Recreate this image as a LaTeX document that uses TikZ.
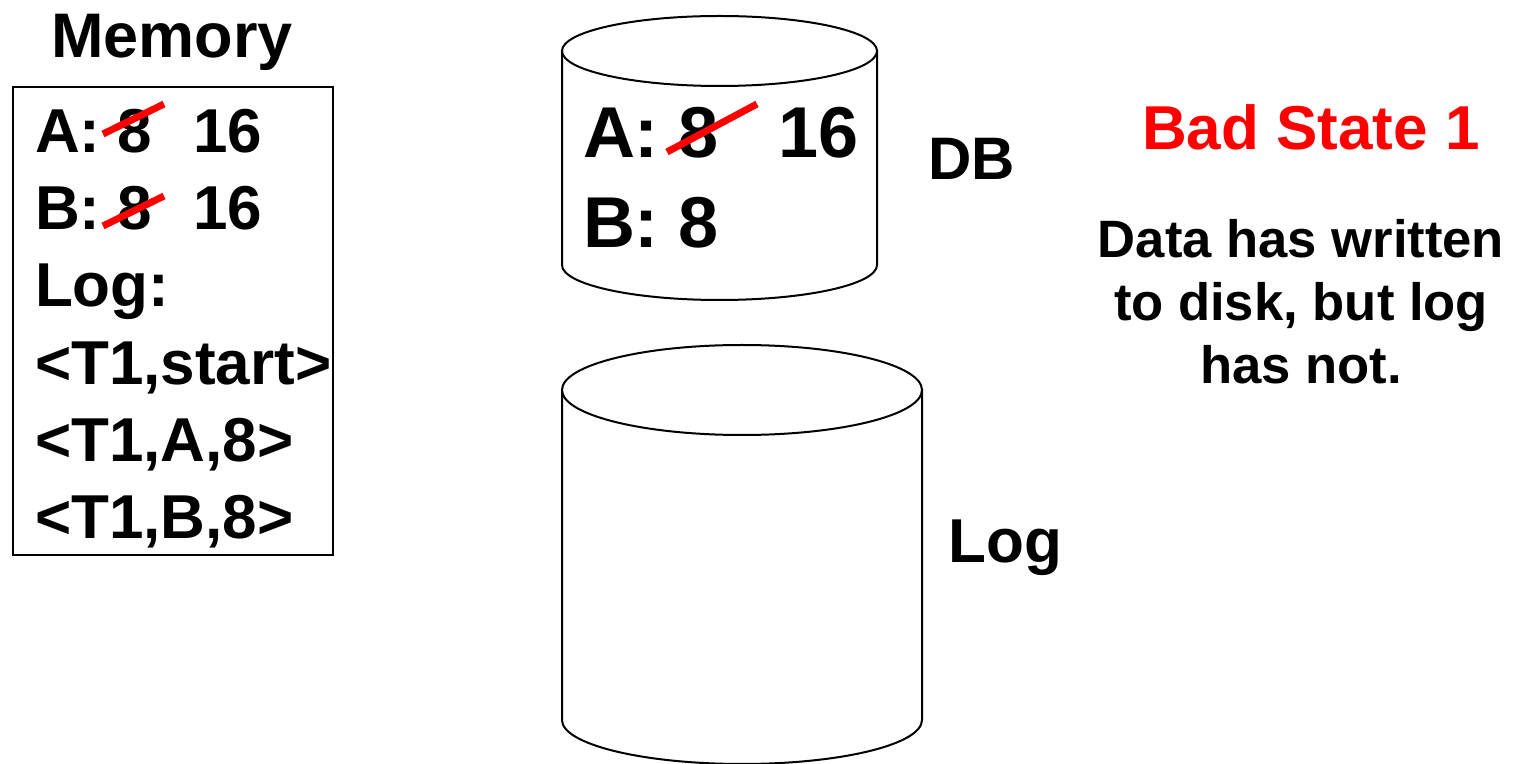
\documentclass[tikz,border=0pt]{standalone}
\usepackage{fontspec}
\setmainfont{Liberation Sans}
\begin{document}
\begin{tikzpicture}[x=0.5pt,y=-0.5pt,
  txt/.style={inner sep=0pt,outer sep=0pt,anchor=base west,font=\bfseries\fontsize{31}{31}\selectfont},
  dbtxt/.style={inner sep=0pt,outer sep=0pt,anchor=base west,font=\bfseries\fontsize{36}{36}\selectfont},
  strike/.style={red,line width=3.5pt},
  cyl/.style={draw=black,line width=1pt,fill=white}]
\useasboundingbox (0,0) rectangle (1523,764);
% Memory
\node[inner sep=0pt,anchor=base,font=\bfseries\fontsize{31.5}{31.5}\selectfont] (memt) at (172,58) {Memory};
\draw[line width=1pt] (13,87) rectangle (333,555);
\node[txt] (ma) at (35,153) {A: 8};
\node[txt] (ma2) at (193,153) {16};
\node[txt] (mb) at (35,230) {B: 8};
\node[txt] (mb2) at (193,230) {16};
\node[txt] (ml) at (35,307) {Log:};
\node[txt] (ml1) at (35,385) {<T1,start>};
\node[txt] (ml2) at (35,462) {<T1,A,8>};
\node[txt] (ml3) at (35,539) {<T1,B,8>};
\draw[strike] (103,134) -- (164,104);
\draw[strike] (103,226) -- (164,196);
% DB cylinder
\path[cyl] (562,51) -- (562,265) arc[start angle=180,end angle=0,x radius=157.5,y radius=35] -- (877,51) -- cycle;
\draw[cyl] (719.5,51) ellipse[x radius=157.5,y radius=35];
\node[dbtxt] (da) at (583,158) {A: 8};
\node[dbtxt] (da2) at (778,158) {16};
\node[dbtxt] (db) at (583,248) {B: 8};
\draw[strike] (667,152) -- (757,104);
\node[inner sep=0pt,anchor=base west,font=\bfseries\fontsize{30}{30}\selectfont] (dbl) at (928,180) {DB};
% Log cylinder
\path[cyl] (562,390) -- (562,720) arc[start angle=180,end angle=0,x radius=180,y radius=44] -- (922,390) -- cycle;
\draw[cyl] (742,390) ellipse[x radius=180,y radius=45];
\node[inner sep=0pt,anchor=base west,font=\bfseries\fontsize{31}{31}\selectfont] (logl) at (948,563) {Log};
% Right text
\node[inner sep=0pt,anchor=base,text=red,font=\bfseries\fontsize{31}{31}\selectfont] (bad) at (1311,150) {Bad State 1};
\node[inner sep=0pt,anchor=base,font=\bfseries\fontsize{26.3}{26.3}\selectfont] (d1) at (1301,258) {Data has written};
\node[inner sep=0pt,anchor=base,font=\bfseries\fontsize{26.3}{26.3}\selectfont] (d2) at (1301,321) {to disk, but log};
\node[inner sep=0pt,anchor=base,font=\bfseries\fontsize{26.3}{26.3}\selectfont] (d3) at (1301,384) {has not.};
\end{tikzpicture}
\end{document}
